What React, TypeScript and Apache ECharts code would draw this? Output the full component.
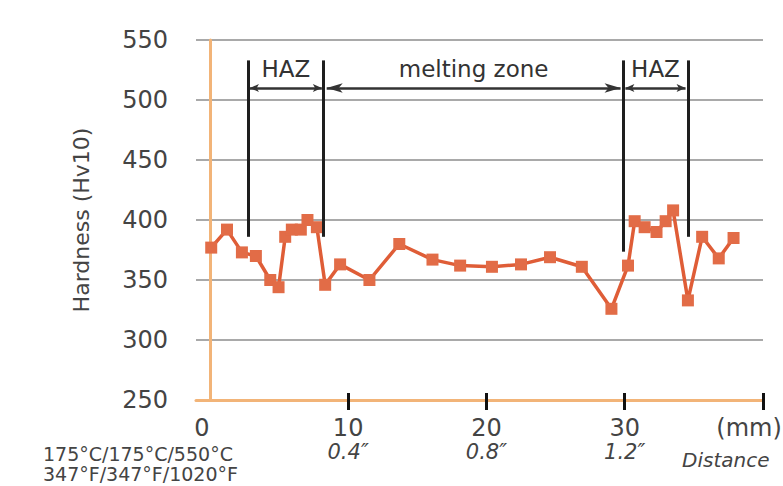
import React, { useEffect, useRef } from "react";
import * as echarts from "echarts";

const distanceMm = [0.1, 1.24, 2.32, 3.33, 4.37, 4.97, 5.45, 5.93, 6.58, 7.06, 7.74, 8.34, 9.42, 11.54, 13.7, 16.1, 18.1, 20.4, 22.5, 24.6, 26.9, 29.04, 30.24, 30.72, 31.44, 32.3, 32.96, 33.5, 34.57, 35.6, 36.8, 37.87];
const hardness = [377, 392, 373, 370, 350, 344, 386, 392, 392, 400, 394, 346, 363, 350, 380, 367, 362, 361, 363, 369, 361, 326, 362, 399, 394, 390, 399, 408, 333, 386, 368, 385];

const xLabelValues = [0, 10, 20, 30, 40];
const xTickValues = [10, 20, 30, 40];
const inchLabels: Record<number, string> = { 10: "0.4″", 20: "0.8″", 30: "1.2″" };
const temperatureLines = ["175°C/175°C/550°C", "347°F/347°F/1020°F"];

// zone boundaries (mm) and annotation levels (Hv)
const zoneBounds = [2.8, 8.2, 29.9, 34.6];
const zoneBoundBottoms = [386, 386, 373.6, 386];
const zoneTop = 533;
const arrowLevel = 510;
const zones = [
  { name: "HAZ", from: 2.9, to: 8.1, head: [6, 9] },
  { name: "melting zone", from: 8.45, to: 29.7, head: [7, 16] },
  { name: "HAZ", from: 30.05, to: 34.4, head: [6, 9] },
];

const FONT = "DejaVu Sans";

export default function App() {
  const ref = useRef<HTMLDivElement>(null);
  useEffect(() => {
    document.body.style.margin = "0";
    const chart = echarts.init(ref.current!, null, { renderer: "svg" });
    const markData: any[] = [];
    zoneBounds.forEach((x, i) => {
      markData.push([
        { coord: [x, zoneTop], symbol: "none", lineStyle: { width: 3, color: "#1e1e1e" }, label: { show: false } },
        { coord: [x, zoneBoundBottoms[i]], symbol: "none" },
      ]);
    });
    zones.forEach((z) => {
      markData.push([
        {
          coord: [z.from, arrowLevel],
          symbol: "arrow",
          symbolSize: z.head,
          lineStyle: { width: 2.5, color: "#333" },
          itemStyle: { color: "#333" },
          label: {
            show: true,
            formatter: z.name,
            position: "insideMiddleTop",
            distance: 8,
            color: "#333",
            fontSize: 23,
            fontFamily: FONT,
          },
        },
        { coord: [z.to, arrowLevel], symbol: "arrow", symbolSize: z.head },
      ]);
    });

    chart.setOption({
      animation: false,
      grid: { left: 196, right: 20, top: 40, bottom: 86, outerBoundsMode: "none", containLabel: false },
      xAxis: [
        {
          type: "value",
          min: -1,
          max: 40,
          splitLine: { show: false },
          axisLine: { show: true, lineStyle: { color: "#f2b478", width: 3 } },
          axisTick: { show: false },
          axisLabel: {
            customValues: xLabelValues,
            margin: 15,
            formatter: (v: number) => {
              if (v === 0) return "{z|0}";
              if (v === 40) return "{m|(mm)}";
              return `{n|${v}}\n{i|${inchLabels[v]}}`;
            },
            rich: {
              z: { fontSize: 24, fontFamily: FONT, color: "#444", padding: [0, 16, 0, 0], lineHeight: 26 },
              m: { fontSize: 24, fontFamily: FONT, color: "#444", padding: [0, 28, 0, 0], lineHeight: 26 },
              n: { fontSize: 24, fontFamily: FONT, color: "#444", lineHeight: 26 },
              i: { fontSize: 21, fontFamily: FONT, fontStyle: "italic", color: "#444", lineHeight: 22 },
            },
          },
        },
        {
          type: "value",
          min: -1,
          max: 40,
          position: "bottom",
          offset: -7,
          splitLine: { show: false },
          axisLine: { show: false },
          axisLabel: { show: false },
          axisTick: {
            show: true,
            customValues: xTickValues,
            length: 17,
            lineStyle: { color: "#111", width: 3 },
          },
        },
      ],
      yAxis: {
        type: "value",
        min: 250,
        max: 550,
        interval: 50,
        name: "Hardness (Hv10)",
        nameLocation: "middle",
        nameGap: 104,
        nameTextStyle: { fontSize: 22, fontFamily: FONT, color: "#444" },
        axisLine: { show: true, lineStyle: { color: "#f2b478", width: 3 } },
        axisTick: { show: false },
        axisLabel: { fontSize: 24, fontFamily: FONT, color: "#444", margin: 28 },
        splitLine: { lineStyle: { color: "#8c8c8c", width: 1.5 } },
      },
      graphic: [
        {
          type: "text",
          left: 43,
          top: 444,
          style: { text: temperatureLines.join("\n"), fontSize: 19, lineHeight: 20, fontFamily: FONT, fill: "#444" },
        },
        { type: "text", left: 682, top: 450, style: { text: "Distance", fontSize: 20, fontFamily: FONT, fontStyle: "italic", fill: "#444" } },
      ],
      series: [
        {
          type: "line",
          data: distanceMm.map((x, i) => [x, hardness[i]]),
          symbol: "rect",
          symbolSize: 12,
          itemStyle: { color: "#e26c47" },
          lineStyle: { color: "#df5d37", width: 3.5 },
          markLine: {
            silent: true,
            animation: false,
            lineStyle: { type: "solid" },
            data: markData,
          },
        },
      ],
    });
    return () => chart.dispose();
  }, []);
  return <div ref={ref} style={{ width: 783, height: 486 }} />;
}
